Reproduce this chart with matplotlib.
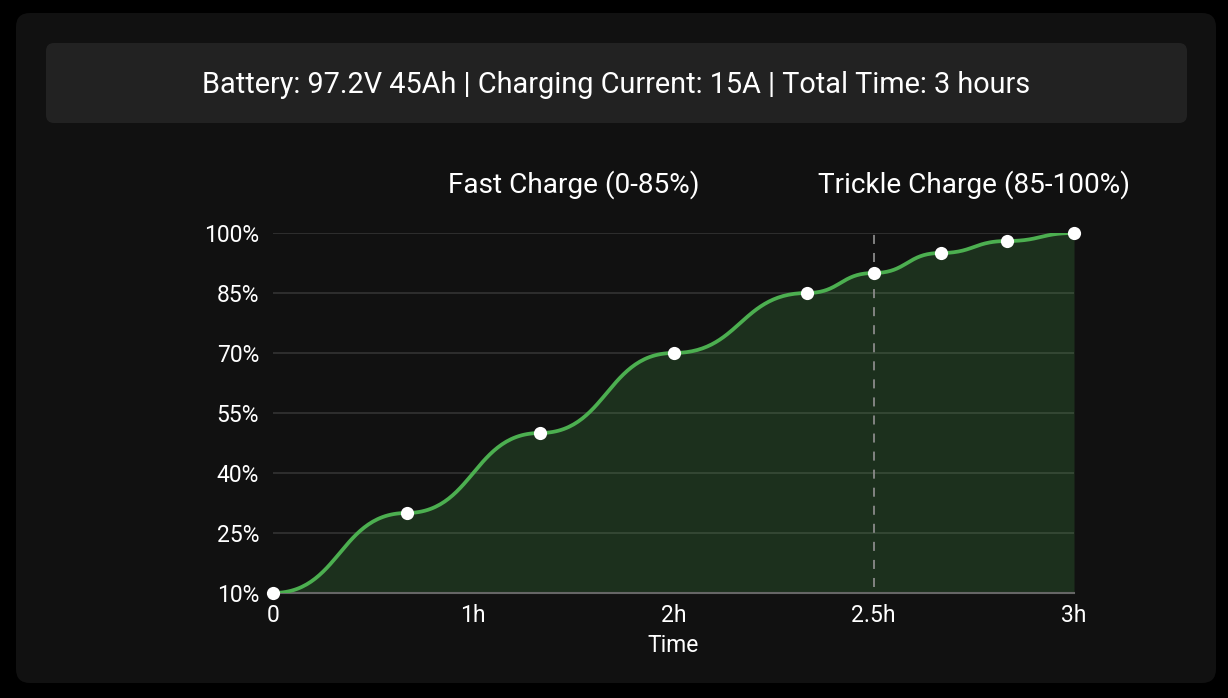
import numpy as np
import matplotlib
matplotlib.use('Agg')
import matplotlib.pyplot as plt
from matplotlib.patches import FancyBboxPatch

plt.rcParams['font.family'] = ['Roboto', 'DejaVu Sans']

# ── Data (minutes since start, state of charge %) ──
times_min = [0, 30, 60, 90, 120, 135, 150, 165, 180]
charge_pct = [10, 30, 50, 70, 85, 90, 95, 98, 100]
tick_pos = [0, 45, 90, 135, 180]
tick_labels = ['0', '1h', '2h', '2.5h', '3h']
y_ticks = [10, 25, 40, 55, 70, 85, 100]
phase_split = 135
header = 'Battery: 97.2V 45Ah | Charging Current: 15A | Total Time: 3 hours'

GREEN = '#4caf50'
W, H = 1228, 698


def bump_x(xs, ys, n=60):
    """Horizontal-tangent cubic bezier through each point (like d3 curveBumpX)."""
    px, py = [], []
    for x0, y0, x1, y1 in zip(xs[:-1], ys[:-1], xs[1:], ys[1:]):
        t = np.linspace(0, 1, n)
        xm = (x0 + x1) / 2
        bx = (1-t)**3*x0 + 3*(1-t)**2*t*xm + 3*(1-t)*t**2*xm + t**3*x1
        by = (1-t)**3*y0 + 3*(1-t)**2*t*y0 + 3*(1-t)*t**2*y1 + t**3*y1
        px.extend(bx); py.extend(by)
    return np.array(px), np.array(py)


fig = plt.figure(figsize=(W/100, H/100), dpi=100, facecolor='black')

# ── Background card + header box in pixel coords ──
bg = fig.add_axes([0, 0, 1, 1])
bg.set_xlim(0, W)
bg.set_ylim(H, 0)
bg.axis('off')
bg.add_patch(FancyBboxPatch((16, 13), 1200, 670, boxstyle='round,pad=0,rounding_size=14',
                            facecolor='#111111', edgecolor='none'))
bg.add_patch(FancyBboxPatch((46, 43), 1141, 80, boxstyle='round,pad=0,rounding_size=8',
                            facecolor='#222222', edgecolor='none'))
bg.text(616, 85, header, color='white', fontsize=20.8, ha='center', va='center')

# ── Main chart ──
ax = fig.add_axes([273/W, 1 - 593/H, (1074-273)/W, (593-233)/H])
ax.set_facecolor('none')
ax.set_xlim(0, 180)
ax.set_ylim(10, 100)

cx, cy = bump_x(times_min, charge_pct)
ax.fill_between(cx, 10, cy, color=GREEN, alpha=0.2, linewidth=0, zorder=1)
ax.plot(cx, cy, color=GREEN, linewidth=2.7, zorder=3, solid_capstyle='round')
ax.plot(times_min, charge_pct, 'o', color='white', markersize=9.5,
        markeredgewidth=0, zorder=4, clip_on=False)

ax.vlines(phase_split, 11.5, 100, colors='#8a8a8a', linestyles=(0, (5, 5)),
          linewidth=1.3, zorder=2)

ax.set_yticks(y_ticks)
ax.set_yticklabels([f'{v}%' for v in y_ticks])
ax.set_xticks(tick_pos)
ax.set_xticklabels(tick_labels)
ax.grid(axis='y', color='#333333', linewidth=1.2, zorder=0)
ax.set_axisbelow(True)
for side in ['top', 'right', 'left']:
    ax.spines[side].set_visible(False)
ax.spines['bottom'].set_color('#666666')
ax.spines['bottom'].set_linewidth(1.5)
ax.tick_params(axis='both', length=0, colors='white', labelsize=16.5)
ax.tick_params(axis='y', pad=10)
ax.tick_params(axis='x', pad=8)
ax.set_xlabel('Time', color='white', fontsize=16.5, labelpad=5)

ax.text((0 + phase_split) / 2, 112, 'Fast Charge (0-85%)', color='white',
        fontsize=20.2, ha='center', va='center', clip_on=False)
ax.text((phase_split + 180) / 2, 112, 'Trickle Charge (85-100%)', color='white',
        fontsize=20.2, ha='center', va='center', clip_on=False)

fig.savefig('out.png', dpi=100, facecolor='black')
